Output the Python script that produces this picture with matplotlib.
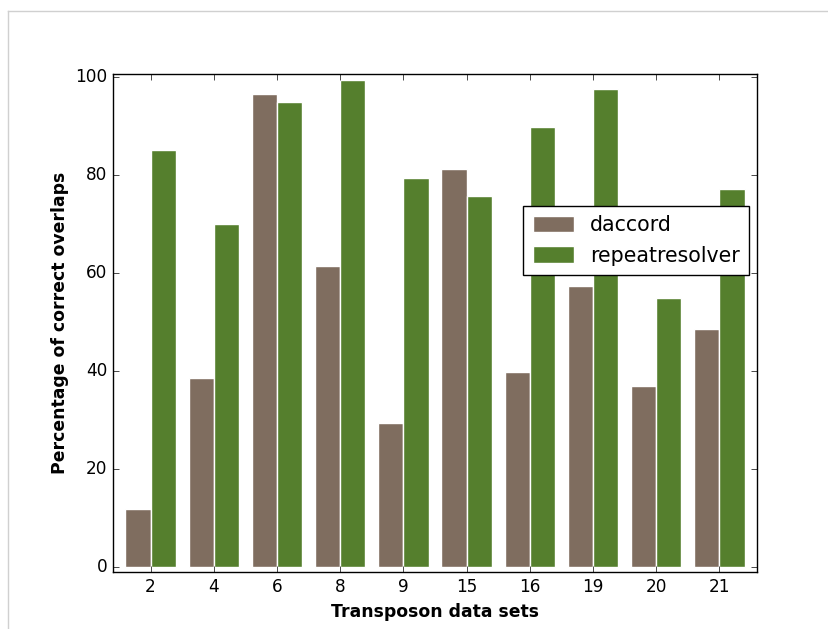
import numpy as np
import matplotlib
matplotlib.use('Agg')
import matplotlib.pyplot as plt
from matplotlib.lines import Line2D

plt.style.use('classic')

# data
datasets = ['2', '4', '6', '8', '9', '15', '16', '19', '20', '21']
daccord = [12.0, 38.6, 96.6, 61.5, 29.5, 81.3, 39.9, 57.4, 37.0, 48.7]
repeatresolver = [85.2, 70.0, 95.0, 99.5, 79.5, 75.9, 89.8, 97.6, 55.0, 77.2]

ind = np.arange(len(datasets))
width = 0.4

fig = plt.figure(figsize=(8.29, 6.29), facecolor='white')
ax = fig.add_axes([113.3/829, 1-572.3/629, 643.4/829, 498.3/629])

ax.bar(ind - width, daccord, width, color='#7f6d5f', edgecolor='white', align='edge', label='daccord')
ax.bar(ind, repeatresolver, width, color='#557f2d', edgecolor='white', align='edge', label='repeatresolver')

ax.set_xticks(ind)
ax.set_xticklabels(datasets)
ax.set_xlim(-0.59, 9.59)
ax.set_ylim(-1, 100.7)
ax.set_yticks([0, 20, 40, 60, 80, 100])
ax.tick_params(labelsize=12.2)

ax.set_xlabel('Transposon data sets', fontweight='bold', fontsize=12.4)
ax.set_ylabel('Percentage of correct overlaps', fontweight='bold', fontsize=12.4)

ax.legend(loc='upper right', bbox_to_anchor=(0.9885, 0.735), borderaxespad=0,
          fancybox=False, framealpha=1, edgecolor='black', fontsize=14.8,
          handleheight=0.85, borderpad=0.45)

# light border of the screenshot (top and left only)
fig.add_artist(Line2D([8.3/829, 1], [1-11.3/629, 1-11.3/629], transform=fig.transFigure, color='#d0d0d0', lw=1))
fig.add_artist(Line2D([8.3/829, 8.3/829], [0, 1-11.3/629], transform=fig.transFigure, color='#d0d0d0', lw=1))

fig.savefig('out.png', dpi=100, facecolor='white')
